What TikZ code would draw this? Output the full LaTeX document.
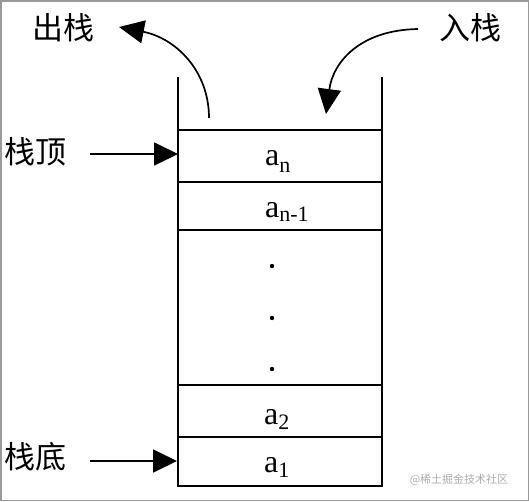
\documentclass[tikz,border=0pt]{standalone}
\usepackage{fontspec}
\setmainfont{Liberation Serif}
\newfontfamily\cjk{Noto Sans CJK SC}
\usetikzlibrary{arrows.meta}
\begin{document}
\begin{tikzpicture}[x=1pt,y=-1pt,
  wall/.style={line width=2pt,line cap=rect},
  sep/.style={line width=2pt},
  lab/.style={font=\cjk\fontsize{31}{31}\selectfont,inner sep=0pt},
  elem/.style={font=\fontsize{32}{32}\selectfont,inner sep=0pt,anchor=base west},
  ptr/.style={line width=1.8pt,-{Triangle[length=24pt,width=23pt]}},
  curv/.style={line width=1.7pt,-{Triangle[length=25pt,width=23pt]}},
  wm/.style={font=\cjk\fontsize{11}{11}\selectfont,text=black!32,inner sep=0pt}]
\useasboundingbox (0,0) rectangle (529,501);
\draw[black!40,line width=1.5pt] (0.75,0.75) rectangle (528.25,500.25);
% stack walls
\coordinate (tl) at (178,78);
\coordinate (tr) at (382,78);
\coordinate (bl) at (178,486);
\coordinate (br) at (382,486);
\draw[wall] (tl) -- (bl) -- (br) -- (tr);
\foreach \y/\n in {130/s1,182/s2,230/s3,385/s4,437/s5}{
  \coordinate (\n l) at (178,\y);
  \coordinate (\n r) at (382,\y);
  \draw[sep] (\n l) -- (\n r);
}
% elements
\node[elem] (an) at (265,165) {a\lower7pt\hbox{\fontsize{22}{22}\selectfont n}};
\node[elem] (an1) at (265,217) {a\lower4pt\hbox{\fontsize{22}{22}\selectfont n-1}};
\node[elem] (a2) at (264,424) {a\lower5pt\hbox{\fontsize{22}{22}\selectfont 2}};
\node[elem] (a1) at (264,472) {a\lower5pt\hbox{\fontsize{22}{22}\selectfont 1}};
\foreach \y/\n in {266/d1,318/d2,369/d3}{
  \fill (272,\y) circle (2.2pt) coordinate (\n);
}
% labels
\node[lab] (out) at (63,28) {出栈};
\node[lab] (in) at (470,28) {入栈};
\node[lab] (top) at (36,152) {栈顶};
\node[lab] (bot) at (36,457) {栈底};
% pointers
\coordinate (topS) at (90,154);
\coordinate (topE) at (178,154);
\coordinate (botS) at (90,461);
\coordinate (botE) at (177,461);
\draw[ptr] (topS) -- (topE);
\draw[ptr] (botS) -- (botE);
% curved arrows
\coordinate (outS) at (209,118);
\coordinate (outE) at (119,27);
\draw[curv] (outS) .. controls (209,70) and (175,38) .. (outE);
\coordinate (inS) at (418,29);
\coordinate (inE) at (326,114);
\draw[curv] (inS) .. controls (360,30) and (333,62) .. (inE);
% watermark
\node[wm] (wmk) at (459,480) {@稀土掘金技术社区};
\end{tikzpicture}
\end{document}
